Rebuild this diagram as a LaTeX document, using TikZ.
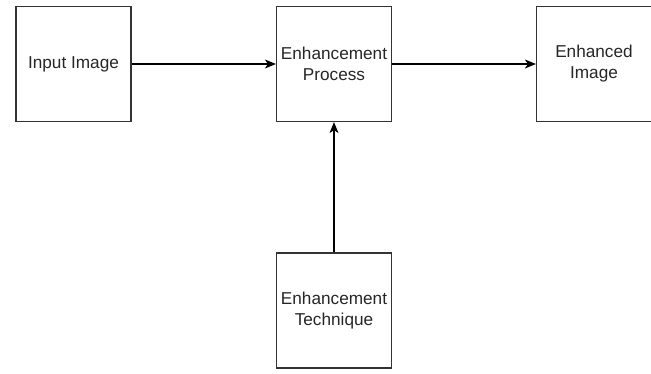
\documentclass[tikz,border=0pt]{standalone}
\usepackage{fontspec}
\setmainfont{Liberation Sans}
\usetikzlibrary{arrows.meta}

\begin{document}
\begin{tikzpicture}[x=1pt,y=-1pt,
	blockbox/.style={draw=black!80,line width=1.2pt,minimum width=115pt,minimum height=115pt,align=center,inner sep=0pt,font=\fontsize{17.2}{21}\selectfont,text=black!85},
	flow/.style={line width=1.2pt,-{Stealth[length=11pt,width=9pt,inset=3pt]}}]
						\useasboundingbox (0,0) rectangle (651,373);
						\node[blockbox] (input) at (73.5,64) {Input Image};
						\node[blockbox] (process) at (334,64) {Enhancement\\Process};
						\node[blockbox] (output) at (594,64) {Enhanced\\Image};
						\node[blockbox] (technique) at (334,310.5) {Enhancement\\Technique};

						\draw[flow] (input) -- (process);
						\draw[flow] (process) -- (output);
						\draw[flow] (technique) -- (process);
					\end{tikzpicture}
\end{document}
